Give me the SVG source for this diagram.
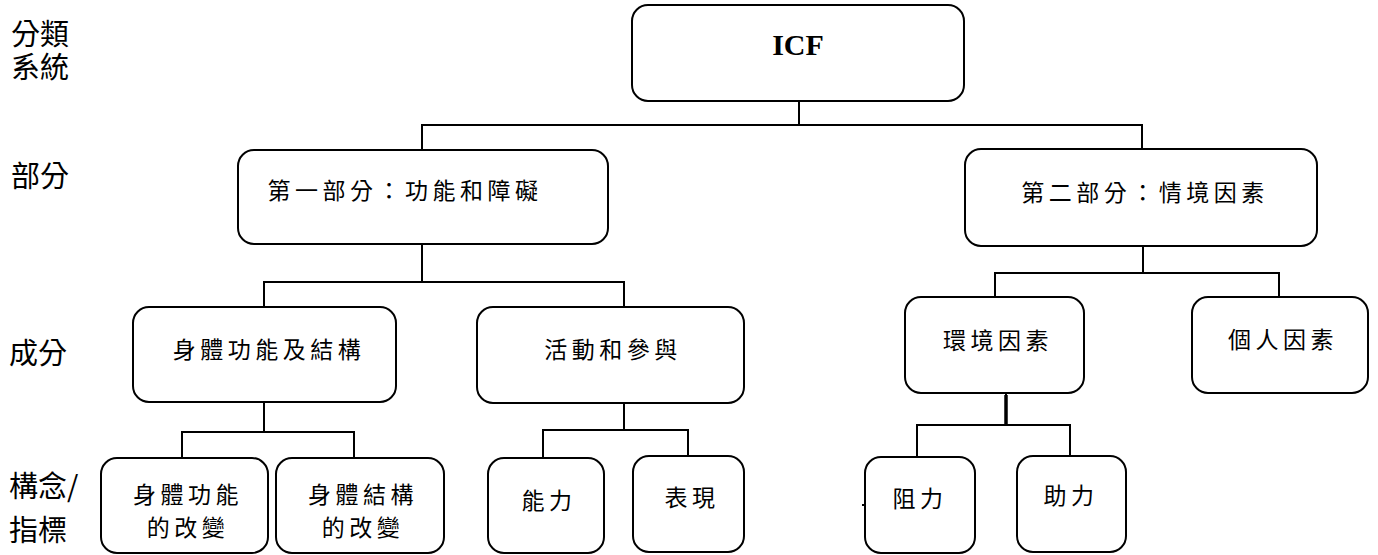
<svg xmlns="http://www.w3.org/2000/svg" width="1378" height="555" viewBox="0 0 1378 555">
  <style>
    .box { fill: #ffffff; stroke: #000000; stroke-width: 2; }
    .wire { fill: none; stroke: #000000; stroke-width: 2; }
    .lvl { font-family: "Noto Sans CJK TC", "Noto Sans", sans-serif; font-size: 29px; fill: #000; }
    .lbl { font-family: "Noto Sans CJK TC", "Noto Sans", sans-serif; font-size: 23px; letter-spacing: 4.5px; fill: #000; text-anchor: middle; }
    .title { font-family: "Liberation Serif", "Times New Roman", serif; font-size: 30px; font-weight: bold; fill: #000; text-anchor: middle; }
  </style>

  <!-- level captions on the left -->
  <g id="levels">
    <text class="lvl"><tspan x="11" y="45">分類</tspan><tspan x="11" y="78">系統</tspan></text>
    <text class="lvl" x="11" y="187">部分</text>
    <text class="lvl" x="9" y="364">成分</text>
    <text class="lvl"><tspan x="9" y="497">構念/</tspan><tspan x="9" y="541">指標</tspan></text>
  </g>

  <!-- connectors -->
  <g id="connectors" class="wire">
    <path d="M799,101 V125 M422,150 V125 H1142 V149"/>
    <path d="M422,244 V282 M264,307 V282 H624 V307"/>
    <path d="M264,402 V432 M182,458 V432 H354 V458"/>
    <path d="M624,403 V430 M543,458 V430 H688 V456"/>
    <path d="M1143,246 V273 M995,297 V273 H1279 V297"/>
    <path d="M1006,393 V425 M917,457 V425 H1070 V456"/>
    <path d="M1006,395 V425" stroke-width="3.5"/>
  </g>

  <!-- nodes -->
  <g id="icf">
    <rect class="box" x="632" y="5" width="332" height="96" rx="16"/>
    <text class="title" x="798" y="55">ICF</text>
  </g>

  <g id="part1">
    <rect class="box" x="238" y="150" width="370" height="94" rx="16"/>
    <text class="lbl" x="405" y="199">第一部分：功能和障礙</text>
  </g>

  <g id="part2">
    <rect class="box" x="965" y="149" width="352" height="97" rx="16"/>
    <text class="lbl" x="1145" y="201">第二部分：情境因素</text>
  </g>

  <g id="body-functions-structures">
    <rect class="box" x="133" y="307" width="263" height="95" rx="16"/>
    <text class="lbl" x="269" y="358">身體功能及結構</text>
  </g>

  <g id="activities-participation">
    <rect class="box" x="477" y="307" width="267" height="96" rx="16"/>
    <text class="lbl" x="613" y="358">活動和參與</text>
  </g>

  <g id="environmental-factors">
    <rect class="box" x="905" y="297" width="179" height="96" rx="16"/>
    <text class="lbl" x="998" y="349">環境因素</text>
  </g>

  <g id="personal-factors">
    <rect class="box" x="1192" y="297" width="176" height="96" rx="16"/>
    <text class="lbl" x="1283" y="348">個人因素</text>
  </g>

  <g id="body-function-change">
    <rect class="box" x="101" y="458" width="167" height="95" rx="16"/>
    <text class="lbl" x="188" y="503">身體功能</text>
    <text class="lbl" x="188" y="536">的改變</text>
  </g>

  <g id="body-structure-change">
    <rect class="box" x="276" y="458" width="168" height="95" rx="16"/>
    <text class="lbl" x="363" y="503">身體結構</text>
    <text class="lbl" x="363" y="536">的改變</text>
  </g>

  <g id="capacity">
    <rect class="box" x="488" y="458" width="116" height="95" rx="16"/>
    <text class="lbl" x="549" y="509">能力</text>
  </g>

  <g id="performance">
    <rect class="box" x="633" y="456" width="111" height="96" rx="16"/>
    <text class="lbl" x="692" y="506">表現</text>
  </g>

  <g id="barriers">
    <rect class="box" x="865" y="457" width="110" height="96" rx="16"/>
    <text class="lbl" x="920" y="507">阻力</text>
    <rect x="862" y="504" width="2" height="2" fill="#000"/>
  </g>

  <g id="facilitators">
    <rect class="box" x="1017" y="456" width="109" height="96" rx="16"/>
    <text class="lbl" x="1071" y="504">助力</text>
  </g>
</svg>
